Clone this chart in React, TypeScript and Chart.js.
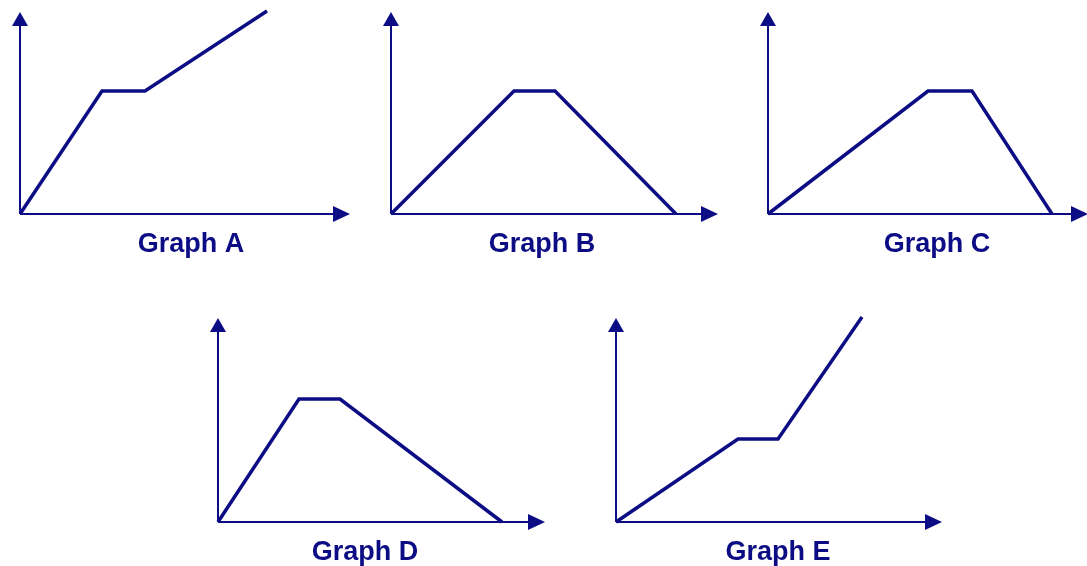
import React, { useEffect, useRef } from "react";
import { Chart, registerables } from "chart.js";

Chart.register(...registerables);

// ---------- data (units: arbitrary) ----------
const graphNames = ["Graph A", "Graph B", "Graph C", "Graph D", "Graph E"];

const graphAX = [0, 8.2, 12.5, 24.7];
const graphAY = [0, 12.3, 12.3, 20.3];

const graphBX = [0, 12.3, 16.4, 28.5];
const graphBY = [0, 12.3, 12.3, 0];

const graphCX = [0, 16.0, 20.4, 28.4];
const graphCY = [0, 12.3, 12.3, 0];

const graphDX = [0, 8.1, 12.2, 28.4];
const graphDY = [0, 12.3, 12.3, 0];

const graphEX = [0, 12.2, 16.2, 24.6];
const graphEY = [0, 8.3, 8.3, 20.5];

const seriesX = [graphAX, graphBX, graphCX, graphDX, graphEX];
const seriesY = [graphAY, graphBY, graphCY, graphDY, graphEY];

// length of each axis (to the arrow tip)
const axisXMax = [33.0, 32.7, 32.0, 32.7, 32.6];
const axisYMax = [20.2, 20.2, 20.2, 20.4, 20.4];

// ---------- layout (pixels) ----------
const PX_PER_UNIT = 10;
const HALF_WIDTH = 190;
const TOP_SPACE = 8;
const TITLE_PAD = 16;
const TITLE_LINE = 30;
const panels = [
  { originX: 20, originY: 214, labelX: 191 },
  { originX: 391, originY: 214, labelX: 542 },
  { originX: 768, originY: 214, labelX: 937 },
  { originX: 218, originY: 522, labelX: 365 },
  { originX: 616, originY: 522, labelX: 778 },
];

const NAVY = "#0c0c84";
const FONT = "'Liberation Sans', Arial, Helvetica, sans-serif";

function axesPlugin(xMax: number, yMax: number) {
  return {
    id: "arrowAxes",
    beforeDatasetsDraw(chart: any) {
      const { ctx, scales } = chart;
      const x0 = scales.x.getPixelForValue(0);
      const y0 = scales.y.getPixelForValue(0);
      const xe = scales.x.getPixelForValue(xMax);
      const ye = scales.y.getPixelForValue(yMax);
      ctx.save();
      ctx.strokeStyle = NAVY;
      ctx.fillStyle = NAVY;
      ctx.lineWidth = 2;
      ctx.beginPath();
      ctx.moveTo(x0, y0);
      ctx.lineTo(xe - 6, y0);
      ctx.moveTo(x0, y0);
      ctx.lineTo(x0, ye + 6);
      ctx.stroke();
      // x arrow
      ctx.beginPath();
      ctx.moveTo(xe, y0);
      ctx.lineTo(xe - 17, y0 - 8);
      ctx.lineTo(xe - 17, y0 + 8);
      ctx.closePath();
      ctx.fill();
      // y arrow
      ctx.beginPath();
      ctx.moveTo(x0, ye);
      ctx.lineTo(x0 - 8, ye + 14);
      ctx.lineTo(x0 + 8, ye + 14);
      ctx.closePath();
      ctx.fill();
      ctx.restore();
    },
  };
}

function Graph({ idx }: { idx: number }) {
  const ref = useRef<HTMLCanvasElement>(null);
  const p = panels[idx];
  const plotTop = axisYMax[idx] * PX_PER_UNIT + TOP_SPACE;
  const canvasTop = p.originY - plotTop;
  const canvasLeft = p.labelX - HALF_WIDTH;
  const width = HALF_WIDTH * 2;
  const height = plotTop + TITLE_PAD + TITLE_LINE;

  useEffect(() => {
    const xs = seriesX[idx];
    const ys = seriesY[idx];
    const chart = new Chart(ref.current!, {
      type: "line",
      data: {
        datasets: [
          {
            data: xs.map((x, i) => ({ x, y: ys[i] })),
            borderColor: NAVY,
            borderWidth: 3.5,
            pointRadius: 0,
            fill: false,
            tension: 0,
            clip: false as any,
            borderJoinStyle: "miter",
          },
        ],
      },
      options: {
        animation: false,
        responsive: false,
        events: [],
        layout: { padding: 0 },
        scales: {
          x: {
            type: "linear",
            display: false,
            min: (canvasLeft - p.originX) / PX_PER_UNIT,
            max: (canvasLeft + width - p.originX) / PX_PER_UNIT,
          },
          y: {
            type: "linear",
            display: false,
            min: 0,
            max: plotTop / PX_PER_UNIT,
          },
        },
        plugins: {
          legend: { display: false },
          tooltip: { enabled: false },
          title: {
            display: true,
            text: graphNames[idx],
            position: "bottom",
            color: NAVY,
            font: { family: FONT, size: 27, weight: "bold", lineHeight: `${TITLE_LINE}px` },
            padding: { top: TITLE_PAD, bottom: 0 },
          },
        },
      },
      plugins: [axesPlugin(axisXMax[idx], axisYMax[idx])],
    } as any);
    return () => chart.destroy();
  }, []);

  return (
    <canvas
      ref={ref}
      width={width}
      height={height}
      style={{ position: "absolute", left: canvasLeft, top: canvasTop, width, height }}
    />
  );
}

export default function App() {
  return (
    <div
      style={{
        position: "absolute",
        left: 0,
        top: 0,
        width: 1087,
        height: 566,
        overflow: "hidden",
        background: "#ffffff",
      }}
    >
      {graphNames.map((_, i) => (
        <Graph key={i} idx={i} />
      ))}
    </div>
  );
}
